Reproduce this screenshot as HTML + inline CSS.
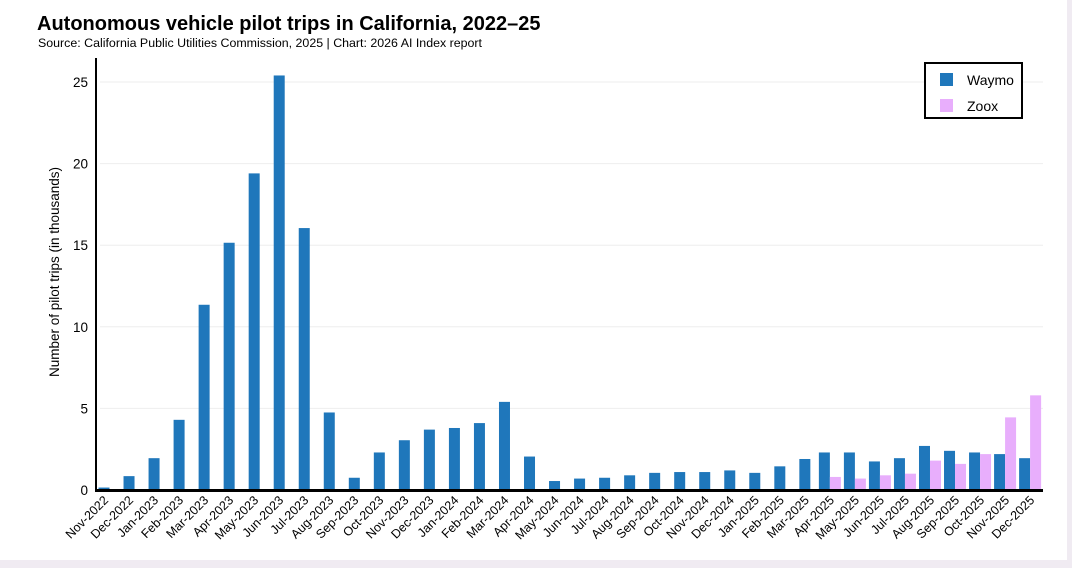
<!DOCTYPE html>
<html><head><meta charset="utf-8"><style>
html,body{margin:0;padding:0;background:#fff}
body{width:1072px;height:568px;overflow:hidden;position:relative;font-family:"Liberation Sans",sans-serif}
</style></head><body>
<svg width="1072" height="568" xmlns="http://www.w3.org/2000/svg" font-family="Liberation Sans, sans-serif">
<rect x="0" y="0" width="1072" height="568" fill="#f0ebf2"/>
<rect x="0" y="0" width="1067" height="560" fill="#fff"/>
<text x="37" y="30" font-size="20" font-weight="bold" fill="#000">Autonomous vehicle pilot trips in California, 2022–25</text>
<text x="38" y="47" font-size="12.4" fill="#000">Source: California Public Utilities Commission, 2025 | Chart: 2026 AI Index report</text>
<g stroke="#eeeeee" stroke-width="1">
<line x1="100" x2="1043" y1="82" y2="82"/>
<line x1="100" x2="1043" y1="163.6" y2="163.6"/>
<line x1="100" x2="1043" y1="245.2" y2="245.2"/>
<line x1="100" x2="1043" y1="326.8" y2="326.8"/>
<line x1="100" x2="1043" y1="408.4" y2="408.4"/>
</g>
<g font-size="13.5" fill="#000" text-anchor="end">
<text x="88" y="87">25</text><text x="88" y="168.6">20</text><text x="88" y="250.2">15</text><text x="88" y="331.8">10</text><text x="88" y="413.4">5</text><text x="88" y="495">0</text>
</g>
<text transform="translate(59,272) rotate(-90)" font-size="13.5" text-anchor="middle" fill="#000">Number of pilot trips (in thousands)</text>
<g id="bars"></g>
<line x1="96" y1="58" x2="96" y2="492" stroke="#000" stroke-width="2"/>
<line x1="95" y1="490.5" x2="1043" y1="490.5" y2="490.5" stroke="#000" stroke-width="3"/>
<g id="labels" font-size="12.5" fill="#000" text-anchor="end"></g>
<rect x="925" y="63" width="97" height="55" fill="#fff" stroke="#000" stroke-width="2"/>
<rect x="940" y="73" width="13" height="13" fill="#1f77bb"/>
<rect x="940" y="99" width="13" height="13" fill="#e8aefc"/>
<text x="967" y="85" font-size="14" fill="#000">Waymo</text>
<text x="967" y="111" font-size="14" fill="#000">Zoox</text>
</svg>
<script>
var labs=["Nov-2022","Dec-2022"];var m=["Jan","Feb","Mar","Apr","May","Jun","Jul","Aug","Sep","Oct","Nov","Dec"];
[2023,2024,2025].forEach(function(y){m.forEach(function(mm){labs.push(mm+"-"+y)})});
var w=[0.15,0.85,1.95,4.3,11.35,15.15,19.4,25.4,16.05,4.75,0.75,2.3,3.05,3.7,3.8,4.1,5.4,2.05,0.55,0.7,0.75,0.9,1.05,1.1,1.1,1.2,1.05,1.45,1.9,2.3,2.3,1.75,1.95,2.7,2.4,2.3,2.2,1.95];
var z={29:0.8,30:0.7,31:0.9,32:1.0,33:1.8,34:1.6,35:2.2,36:4.45,37:5.8};
var s="",l="",k=16.32;
for(var i=0;i<38;i++){var c=104+i*25.03;var h=w[i]*k;
if(z[i]!==undefined){s+='<rect x="'+(c-11)+'" y="'+(490-h)+'" width="11" height="'+h+'" fill="#1f77bb"/>';var hz=z[i]*k;s+='<rect x="'+c+'" y="'+(490-hz)+'" width="11" height="'+hz+'" fill="#e8aefc"/>';}
else s+='<rect x="'+(c-5.5)+'" y="'+(490-h)+'" width="11" height="'+h+'" fill="#1f77bb"/>';
l+='<text transform="translate('+(c+5)+',501) rotate(-45)">'+labs[i]+'</text>';}
document.getElementById("bars").innerHTML=s;document.getElementById("labels").innerHTML=l;
</script>
</body></html>
